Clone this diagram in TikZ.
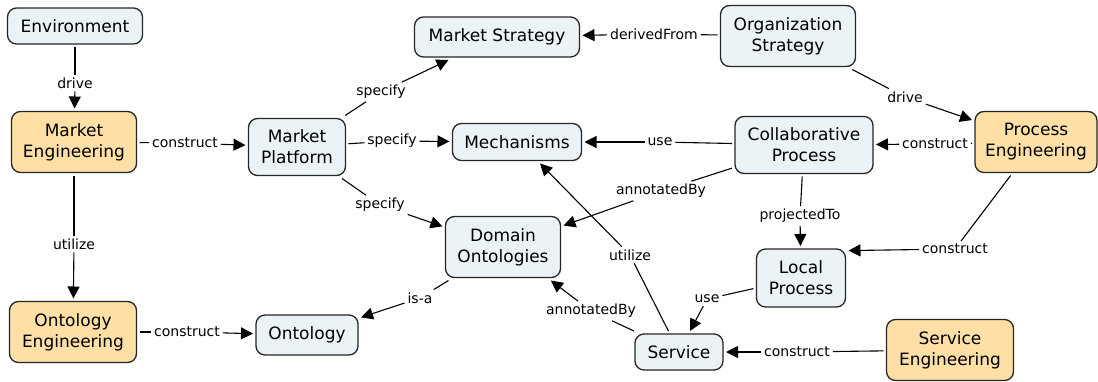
\documentclass[tikz,border=0pt]{standalone}
\usepackage{fontspec}
\setmainfont{DejaVu Sans}
\usetikzlibrary{arrows.meta}
\definecolor{conceptfill}{RGB}{235,243,246}
\definecolor{engfill}{RGB}{254,223,166}

\begin{document}
\begin{tikzpicture}[
    x=1pt, y=-1pt,
    concept/.style={rectangle, rounded corners=9pt, draw=black!85, line width=1.3pt,
      fill=conceptfill, align=center, inner sep=2pt, outer sep=3pt,
      font=\fontsize{17}{21}\selectfont},
    engconcept/.style={concept, fill=engfill},
    lbl/.style={inner sep=2pt, outer sep=1pt, font=\fontsize{14}{16}\selectfont},
    conn/.style={line width=1.1pt, draw=black},
    arrow/.style={conn, -{Triangle[length=12pt, width=12pt]}},
  ]
  \useasboundingbox (0,0) rectangle (1098,381);

  \node[concept, minimum width=135pt, minimum height=36pt]    (env)      at (75,26)   {Environment};
  \node[engconcept, minimum width=125pt, minimum height=61pt] (markeng)  at (74,142)  {Market\\Engineering};
  \node[concept, minimum width=97pt, minimum height=57pt]     (platform) at (297,147) {Market\\Platform};
  \node[concept, minimum width=165pt, minimum height=40pt]    (mstrat)   at (497,37)  {Market Strategy};
  \node[concept, minimum width=129pt, minimum height=37pt]    (mech)     at (517,142) {Mechanisms};
  \node[concept, minimum width=135pt, minimum height=61pt]    (ostrat)   at (788,36)  {Organization\\Strategy};
  \node[concept, minimum width=138pt, minimum height=57pt]    (collab)   at (804,145) {Collaborative\\Process};
  \node[engconcept, minimum width=122pt, minimum height=61pt] (proceng)  at (1036,142) {Process\\Engineering};
  \node[concept, minimum width=115pt, minimum height=61pt]    (domont)   at (503,247) {Domain\\Ontologies};
  \node[concept, minimum width=89pt, minimum height=58pt]     (local)    at (801,278) {Local\\Process};
  \node[engconcept, minimum width=127pt, minimum height=61pt] (ontoeng)  at (73,332)  {Ontology\\Engineering};
  \node[concept, minimum width=102pt, minimum height=40pt]    (onto)     at (307,335) {Ontology};
  \node[concept, minimum width=88pt, minimum height=36pt]     (service)  at (679,352) {Service};
  \node[engconcept, minimum width=127pt, minimum height=61pt] (serveng)  at (950,350) {Service\\Engineering};

  \node[lbl] (ldrive1)  at (75,83)   {drive};
  \node[lbl] (lconstr1) at (185,143) {construct};
  \node[lbl] (lutil1)   at (74,244)  {utilize};
  \node[lbl] (lconstr2) at (187,332) {construct};
  \node[lbl] (lspec1)   at (381,92)  {specify};
  \node[lbl] (lspec2)   at (392,141) {specify};
  \node[lbl] (lspec3)   at (380,205) {specify};
  \node[lbl] (lderived) at (654,34)  {derivedFrom};
  \node[lbl] (luse1)    at (660,142) {use};
  \node[lbl] (ldrive2)  at (905,97)  {drive};
  \node[lbl] (lconstr3) at (935,144) {construct};
  \node[lbl] (lannot1)  at (661,191) {annotatedBy};
  \node[lbl] (lproj)    at (800,216) {projectedTo};
  \node[lbl] (lconstr4) at (955,249) {construct};
  \node[lbl] (lutil2)   at (630,255) {utilize};
  \node[lbl] (lisa)     at (420,298) {is-a};
  \node[lbl] (lannot2)  at (591,311) {annotatedBy};
  \node[lbl] (luse2)    at (707,299) {use};
  \node[lbl] (lconstr5) at (797,352) {construct};

  \draw[conn] (env) -- (ldrive1) edge[arrow] (markeng);
  \draw[conn] (markeng) -- (lconstr1) edge[arrow] (platform);
  \draw[conn] (markeng) -- (lutil1) edge[arrow] (ontoeng);
  \draw[conn] (ontoeng) -- (lconstr2) edge[arrow] (onto);
  \draw[conn] (platform) -- (lspec1) edge[arrow] (mstrat);
  \draw[conn] (platform) -- (lspec2) edge[arrow] (mech);
  \draw[conn] (platform) -- (lspec3) edge[arrow] (domont);
  \draw[conn] (ostrat) -- (lderived) edge[arrow] (mstrat);
  \draw[conn] (collab) -- (luse1) edge[arrow] (mech);
  \draw[conn] (ostrat) -- (ldrive2) edge[arrow] (proceng);
  \draw[conn] (proceng) -- (lconstr3) edge[arrow] (collab);
  \draw[conn] (collab) -- (lannot1) edge[arrow] (domont);
  \draw[conn] (collab) -- (lproj) edge[arrow] (local);
  \draw[conn] (proceng) -- (lconstr4) edge[arrow] (local.30);
  \draw[conn] (service) -- (lutil2) edge[arrow] (mech.-43);
  \draw[conn] (domont) -- (lisa) edge[arrow] (onto);
  \draw[conn] (service) -- (lannot2) edge[arrow] (domont.-35);
  \draw[conn] (local) -- (luse2) edge[arrow] (service);
  \draw[conn] (serveng) -- (lconstr5) edge[arrow] (service);
\end{tikzpicture}
\end{document}
